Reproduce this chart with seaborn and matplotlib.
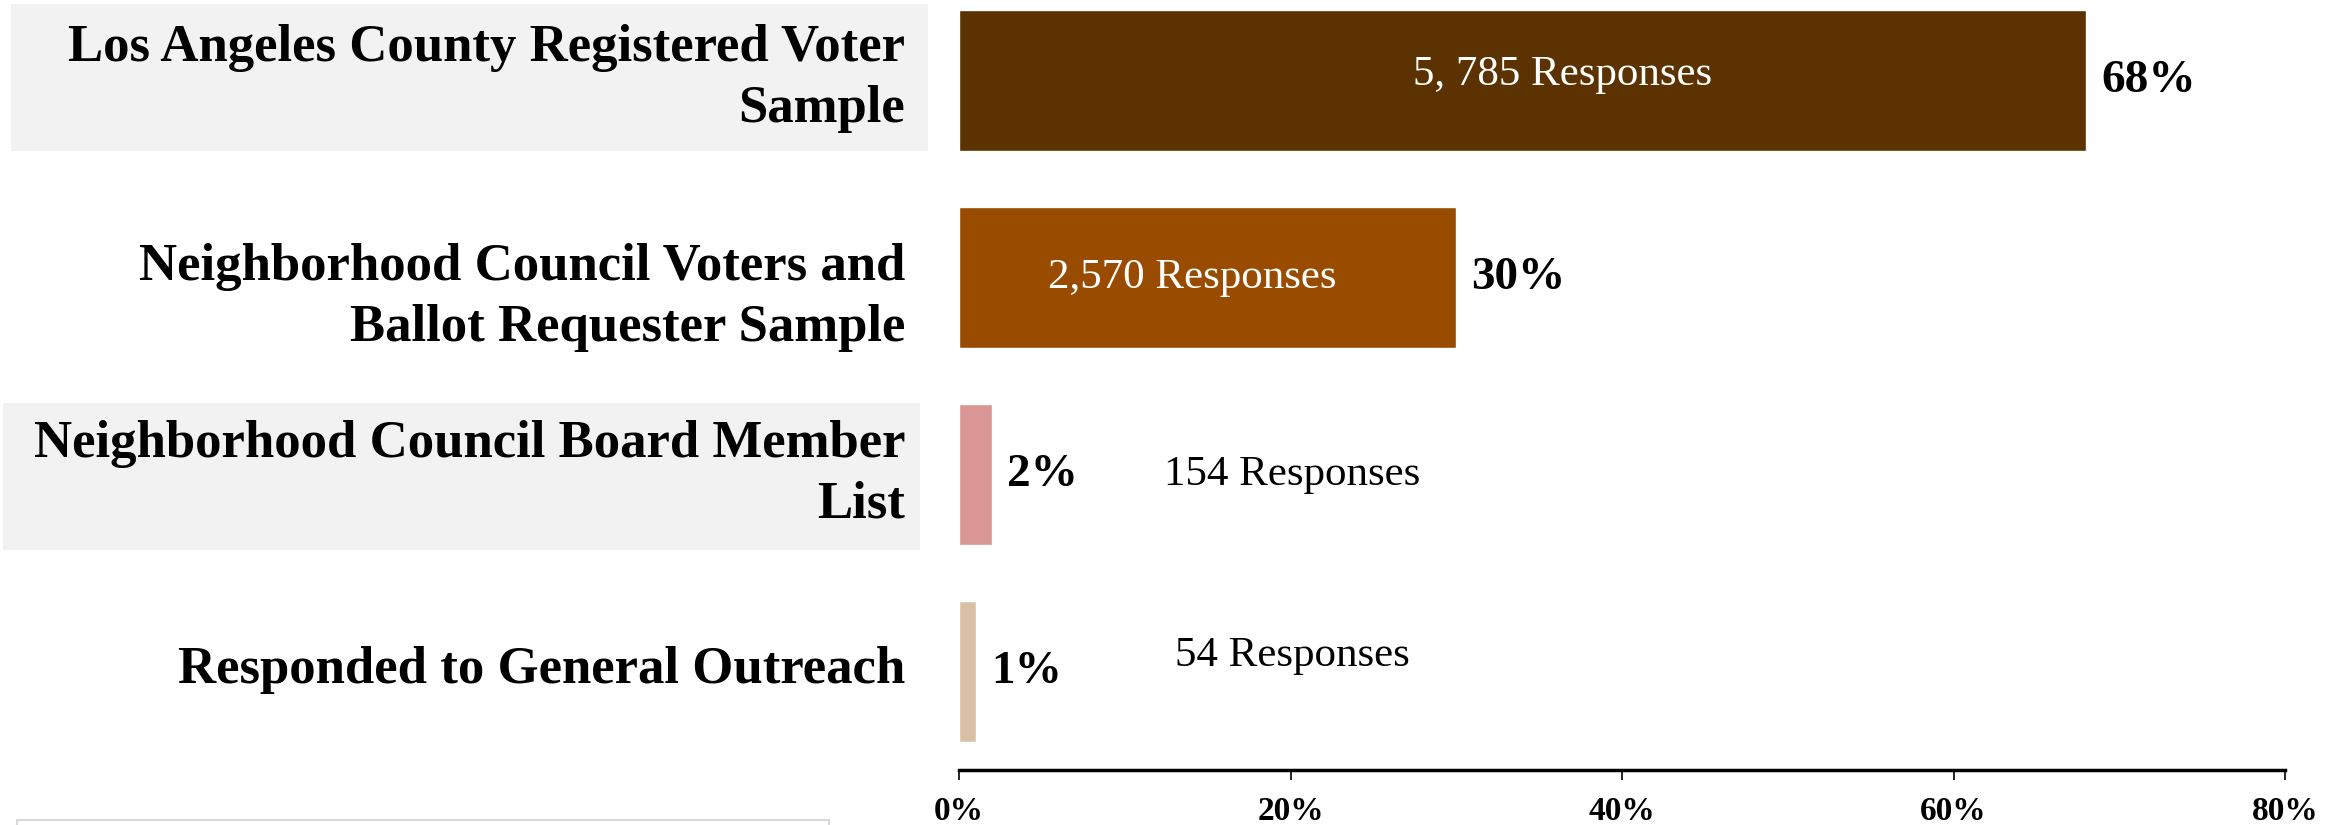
import seaborn as sns
import matplotlib.pyplot as plt
from matplotlib.patches import Rectangle
from matplotlib.transforms import blended_transform_factory
from pandas import DataFrame

# data
groups = ['Los Angeles County Registered Voter\nSample',
          'Neighborhood Council Voters and\nBallot Requester Sample',
          'Neighborhood Council Board Member\nList',
          'Responded to General Outreach']
shares = [68, 30, 2, 1]
share_labels = ['68%', '30%', '2%', '1%']
response_labels = ['5, 785 Responses', '2,570 Responses', '154 Responses', '54 Responses']
x_ticks = [0, 20, 40, 60, 80]
x_tick_labels = ['0%', '20%', '40%', '60%', '80%']

colors = ['#5C3300', '#994C00', '#D99694', '#DBC0A5']
resp_x = [36.4, 14.1, 20.1, 20.1]
resp_dy = [-0.03, 0.0, 0.0, -0.08]
resp_color = ['white', 'white', 'black', 'black']
label_dy = [-0.01, 0.1, 0.0, -0.01]

sns.set_theme(style='white')
plt.rcParams['font.family'] = ['Liberation Serif', 'DejaVu Serif']
plt.rcParams['text.color'] = 'black'
plt.rcParams['xtick.color'] = 'black'

W, H = 2349, 825
fig = plt.figure(figsize=(W / 100, H / 100), dpi=100)
ax = fig.add_axes([959 / W, (H - 770) / H, (2285 - 959) / W, 770 / H])

df = DataFrame({'group': groups, 'share': shares})
sns.barplot(data=df, y='group', x='share', hue='group', palette=colors,
            orient='h', width=0.716, legend=False, ax=ax, saturation=1)

ax.set_xlim(0, 80)
ax.set_ylim(3.5, -0.41)
ax.set_xticks(x_ticks)
ax.set_xticklabels(x_tick_labels, fontsize=24, fontweight='bold', color='black')
ax.tick_params(axis='x', length=7, width=1.2, color='black', pad=12, bottom=True)
ax.set_yticks([])
ax.set_xlabel('')
ax.set_ylabel('')
for s in ['top', 'right', 'left']:
    ax.spines[s].set_visible(False)
ax.spines['bottom'].set_color('black')
ax.spines['bottom'].set_linewidth(2.5)

# percent labels
for cont, lab in zip(ax.containers, share_labels):
    ax.bar_label(cont, labels=[lab], padding=11, fontsize=34, fontweight='bold', color='black')

# response counts
for i, (t, x) in enumerate(zip(response_labels, resp_x)):
    ax.text(x, i + resp_dy[i], t, ha='center', va='center', fontsize=31,
            color=resp_color[i])

# grey label boxes (behind everything)
fig.patches.append(Rectangle((11 / W, 1 - 151 / H), (928 - 11) / W, (151 - 4) / H,
                             transform=fig.transFigure, facecolor='#F2F2F2',
                             edgecolor='none', zorder=-1))
fig.patches.append(Rectangle((3 / W, 1 - 550 / H), (920 - 3) / W, (550 - 403) / H,
                             transform=fig.transFigure, facecolor='#F2F2F2',
                             edgecolor='none', zorder=-1))
fig.patches.append(Rectangle((17 / W, -0.05), (829 - 17) / W, 0.05 + (H - 820) / H,
                             transform=fig.transFigure, facecolor='white',
                             edgecolor='#D9D9D9', linewidth=1.5, zorder=-1))

# category labels
tr = blended_transform_factory(fig.transFigure, ax.transData)
for i, g in enumerate(groups):
    ax.text(905 / W, i + label_dy[i], g, transform=tr, ha='right', va='center',
            fontsize=38, fontweight='bold', linespacing=1.34, clip_on=False,
            color='black')

fig.savefig('out.png', dpi=100)
